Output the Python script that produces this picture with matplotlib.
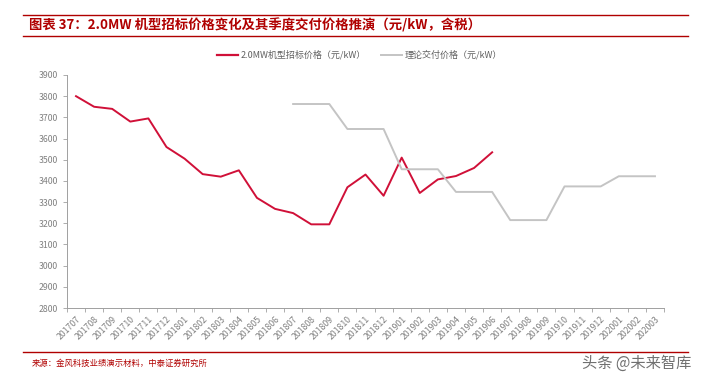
import numpy as np
import matplotlib
matplotlib.use("Agg")
import matplotlib.pyplot as plt
from matplotlib.lines import Line2D

plt.rcParams['font.family'] = ['Noto Sans CJK SC', 'DejaVu Sans']

# ── Data ───────────────────────────────────────────────────────────────────
months = ['201707', '201708', '201709', '201710', '201711', '201712',
          '201801', '201802', '201803', '201804', '201805', '201806',
          '201807', '201808', '201809', '201810', '201811', '201812',
          '201901', '201902', '201903', '201904', '201905', '201906',
          '201907', '201908', '201909', '201910', '201911', '201912',
          '202001', '202002', '202003']

bid_price = [3800, 3750, 3740, 3680, 3695, 3560,
             3505, 3432, 3420, 3450, 3320, 3268,
             3248, 3195, 3195, 3370, 3430, 3330,
             3510, 3343, 3407, 3423, 3461, 3535]

delivery_price = [3763, 3763, 3763, 3645, 3645, 3645,
                  3455, 3455, 3455, 3348, 3348, 3348,
                  3215, 3215, 3215, 3374, 3374, 3374,
                  3422, 3422, 3422]
delivery_start = 12   # first month with a delivery price (201807)

RED = '#d01038'
GRAY = '#c4c4c4'
TITLE_RED = '#b00000'
TICK_GRAY = '#808080'

# ── Figure ─────────────────────────────────────────────────────────────────
fig = plt.figure(figsize=(7.02, 3.82), dpi=100)
ax = fig.add_axes([0.0954, 0.1937, 0.8505, 0.61])

x = np.arange(len(months))
ax.plot(x[:len(bid_price)], bid_price, color=RED, linewidth=1.4)
ax.plot(x[delivery_start:delivery_start + len(delivery_price)], delivery_price,
        color=GRAY, linewidth=1.4)

ax.set_xlim(-0.5, len(months) - 0.5)
ax.set_ylim(2800, 3900)
ax.set_yticks(np.arange(2800, 3901, 100))
ax.set_xticks(x)
ax.set_xticklabels(months, rotation=45, ha='right', rotation_mode='anchor')
ax.set_xticks(np.arange(-0.5, len(months), 1), minor=True)
ax.tick_params(axis='x', which='major', length=0, labelsize=6.3, colors=TICK_GRAY, pad=5)
ax.tick_params(axis='x', which='minor', length=3, color='#a0a0a0', width=0.6)
ax.tick_params(axis='y', length=3, labelsize=6.3, colors=TICK_GRAY, color='#a0a0a0', width=0.6)

for side in ['top', 'right']:
    ax.spines[side].set_visible(False)
for side in ['left', 'bottom']:
    ax.spines[side].set_color('#a0a0a0')
    ax.spines[side].set_linewidth(0.7)

# ── Legend ─────────────────────────────────────────────────────────────────
handles = [Line2D([], [], color=RED, linewidth=1.6),
           Line2D([], [], color=GRAY, linewidth=1.4)]
fig.legend(handles, ['2.0MW机型招标价格（元/kW）', '理论交付价格（元/kW）'],
           loc='center', bbox_to_anchor=(0.512, 0.856), ncol=2, frameon=False,
           fontsize=6.5, handlelength=2.4, handletextpad=0.3, columnspacing=1.6,
           labelcolor='#606060')

# ── Title and frame lines ──────────────────────────────────────────────────
fig.add_artist(Line2D([0.033, 0.98], [0.961, 0.961], color=TITLE_RED, linewidth=1.0))
fig.add_artist(Line2D([0.033, 0.98], [0.906, 0.906], color=TITLE_RED, linewidth=1.0))
fig.text(0.042, 0.933, '图表 37：2.0MW 机型招标价格变化及其季度交付价格推演（元/kW，含税）',
         fontsize=9.6, fontweight='bold', style='italic', color=TITLE_RED,
         va='center', ha='left')

fig.add_artist(Line2D([0.033, 0.98], [0.078, 0.078], color=TITLE_RED, linewidth=1.0))
fig.text(0.045, 0.05, '来源：金风科技业绩演示材料，中泰证券研究所',
         fontsize=6, color=TITLE_RED, va='center', ha='left')
fig.text(0.985, 0.05, '头条 @未来智库', fontsize=11, color='#707070',
         va='center', ha='right')

fig.savefig('out.png', dpi=100)
